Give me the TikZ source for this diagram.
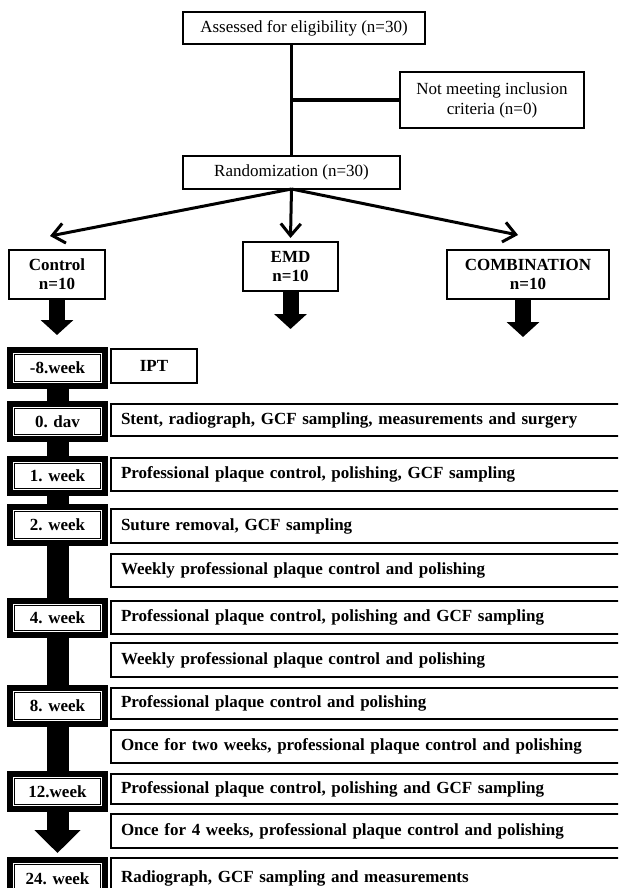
\documentclass[tikz,border=0pt]{standalone}
\usepackage{fontspec}
\setmainfont{Liberation Serif}
\usetikzlibrary{arrows.meta}
\begin{document}
\begin{tikzpicture}[x=1pt,y=-1pt,
  every node/.style={font=\fontsize{17}{20}\selectfont, inner sep=0pt, outer sep=0pt},
  topbox/.style={draw, line width=2pt, fill=white, align=center},
  grpbox/.style={draw, line width=2pt, fill=white, align=center, font=\fontsize{17}{19}\selectfont\bfseries},
  rowbox/.style={draw, line width=2pt, fill=white, anchor=west, text width=500pt, inner xsep=10pt, align=left, font=\fontsize{17}{20}\selectfont\bfseries},
  weekbox/.style={draw, line width=6pt, fill=white, minimum width=95pt, font=\fontsize{17}{20}\selectfont\bfseries,
    path picture={\draw[line width=1pt] ([shift={(4.5pt,4.5pt)}]path picture bounding box.south west) rectangle ([shift={(-4.5pt,-4.5pt)}]path picture bounding box.north east);}},
  conn/.style={line width=3.5pt},
  arr/.style={line width=3pt, -{Straight Barb[length=12pt,width=20pt]}},
  blockarr/.style={line width=16pt, -{Triangle[length=15pt,width=32pt]}},
  bigarr/.style={line width=22pt, -{Triangle[length=23pt,width=45pt]}},
  bar/.style={line width=22pt},
]
\useasboundingbox (0,0) rectangle (618,888);
\clip (0,0) rectangle (618,888);

% top part
\node[topbox, minimum width=242pt, minimum height=32pt] (assess) at (304,28) {Assessed for eligibility (n=30)};
\node[topbox, minimum width=184pt, minimum height=56pt] (notmeet) at (492,100) {Not meeting inclusion\\criteria (n=0)};
\node[topbox, minimum width=217pt, minimum height=33pt] (rand) at (291.5,172.5) {Randomization (n=30)};

\draw[conn] (rand.north |- assess.south) -- (rand.north);
\draw[conn] (rand.north |- notmeet.west) -- (notmeet.west);

% groups
\node[grpbox, minimum width=96pt, minimum height=49pt] (control) at (57,274.5) {Control\\n=10};
\node[grpbox, minimum width=95pt, minimum height=49pt] (emd) at (290.5,266.5) {EMD\\n=10};
\node[grpbox, minimum width=162pt, minimum height=49pt] (comb) at (528,274.5) {COMBINATION\\n=10};

\draw[arr] (rand.south) -- ([shift={(-7pt,14pt)}]control.north);
\draw[arr] (rand.south) -- ([shift={(0pt,4pt)}]emd.north);
\draw[arr] (rand.south) -- ([shift={(-10pt,15pt)}]comb.north);

\coordinate (tipA) at (57,335);
\coordinate (tipB) at (290.5,329);
\coordinate (tipC) at (523,337);
\draw[blockarr] (control.south) -- (tipA);
\draw[blockarr] (emd.south) -- (tipB);
\draw[blockarr] (tipC |- comb.south) -- (tipC);

% timeline week frames
\node[weekbox, minimum height=36pt] (w0) at (57.5,368) {-8.week};
\node[weekbox, minimum height=35pt] (w1) at (57.5,421.5) {0. dav};
\node[weekbox, minimum height=34pt] (w2) at (57.5,476) {1. week};
\node[weekbox, minimum height=36pt] (w3) at (57.5,525) {2. week};
\node[weekbox, minimum height=34pt] (w4) at (57.5,618) {4. week};
\node[weekbox, minimum height=36pt] (w5) at (57.5,706) {8. week};
\node[weekbox, minimum height=35pt] (w6) at (57.5,791.5) {12.week};
\node[weekbox, minimum height=37pt] (w7) at (57.5,878.5) {24. week};

\draw[bar] (w0.south) -- (w1.north);
\draw[bar] (w1.south) -- (w2.north);
\draw[bar] (w2.south) -- (w3.north);
\draw[bar] (w3.south) -- (w4.north);
\draw[bar] (w4.south) -- (w5.north);
\draw[bar] (w5.south) -- (w6.north);
\draw[bigarr] (w6.south) -- ([yshift=7pt]w7.north);

% rows
\node[topbox, minimum width=86pt, minimum height=34pt, font=\fontsize{17}{20}\selectfont\bfseries] (ipt) at (154,366) {IPT};
\node[rowbox, minimum height=32pt] (r1) at (111,420) {Stent, radiograph, GCF sampling, measurements and surgery};
\node[rowbox, minimum height=33pt] (r2) at (111,474.5) {Professional plaque control, polishing, GCF sampling};
\node[rowbox, minimum height=34pt] (r3) at (111,526) {Suture removal, GCF sampling};
\node[rowbox, minimum height=33pt] (r4) at (111,570.5) {Weekly professional plaque control and polishing};
\node[rowbox, minimum height=33pt] (r5) at (111,617.5) {Professional plaque control, polishing and GCF sampling};
\node[rowbox, minimum height=34pt] (r6) at (111,660) {Weekly professional plaque control and polishing};
\node[rowbox, minimum height=31pt] (r7) at (111,703.5) {Professional plaque control and polishing};
\node[rowbox, minimum height=33pt] (r8) at (111,746.5) {Once for two weeks, professional plaque control and polishing};
\node[rowbox, minimum height=30pt] (r9) at (111,789) {Professional plaque control, polishing and GCF sampling};
\node[rowbox, minimum height=34pt] (r10) at (111,831) {Once for 4 weeks, professional plaque control and polishing};
\node[rowbox, minimum height=40pt] (r11) at (111,878) {Radiograph, GCF sampling and measurements};
\end{tikzpicture}
\end{document}
